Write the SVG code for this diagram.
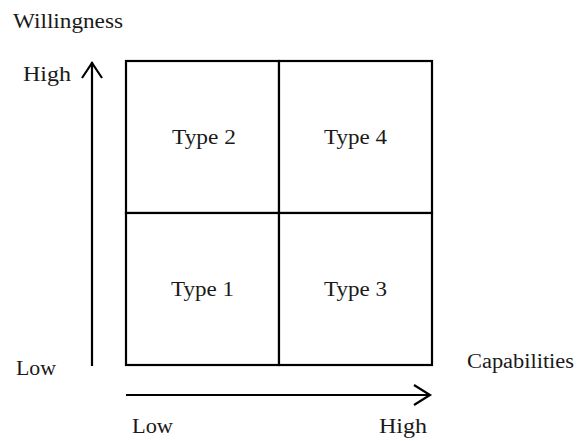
<svg xmlns="http://www.w3.org/2000/svg" width="580" height="441" viewBox="0 0 580 441">
  <style>
    .cell { fill: #fff; stroke: #000; stroke-width: 2.2; }
    .axis { fill: none; stroke: #000; stroke-width: 2.2; }
    .head { fill: none; stroke: #000; stroke-width: 2.2; stroke-linejoin: miter; }
  </style>
  <rect width="580" height="441" fill="#fff"/>

  <g font-family="Liberation Serif" font-size="20" fill="#1a1a1a">
    <!-- 2x2 grid of types -->
    <g id="type2"><rect class="cell" x="126" y="61" width="153" height="152"/><text x="172" y="144" textLength="64" lengthAdjust="spacingAndGlyphs">Type 2</text></g>
    <g id="type4"><rect class="cell" x="279" y="61" width="153" height="152"/><text x="324" y="144" textLength="63" lengthAdjust="spacingAndGlyphs">Type 4</text></g>
    <g id="type1"><rect class="cell" x="126" y="213" width="153" height="152"/><text x="171" y="296" textLength="63" lengthAdjust="spacingAndGlyphs">Type 1</text></g>
    <g id="type3"><rect class="cell" x="279" y="213" width="153" height="152"/><text x="324" y="296" textLength="63" lengthAdjust="spacingAndGlyphs">Type 3</text></g>

    <!-- axes -->
    <g id="connectors">
      <line class="axis" x1="92" y1="366" x2="92" y2="62"/>
      <polyline class="head" points="82,78 92,63 102,78"/>
      <line class="axis" x1="126" y1="395" x2="430" y2="395"/>
      <polyline class="head" points="414,385 430,395 414,405"/>
    </g>

    <!-- axis labels -->
    <g id="labels">
      <text x="13" y="28" textLength="110" lengthAdjust="spacingAndGlyphs">Willingness</text>
      <text x="23" y="81" textLength="48" lengthAdjust="spacingAndGlyphs">High</text>
      <text x="16" y="375" textLength="40" lengthAdjust="spacingAndGlyphs">Low</text>
      <text x="467" y="368" textLength="107" lengthAdjust="spacingAndGlyphs">Capabilities</text>
      <text x="132" y="433" textLength="41" lengthAdjust="spacingAndGlyphs">Low</text>
      <text x="379" y="433" textLength="48" lengthAdjust="spacingAndGlyphs">High</text>
    </g>
  </g>
</svg>
